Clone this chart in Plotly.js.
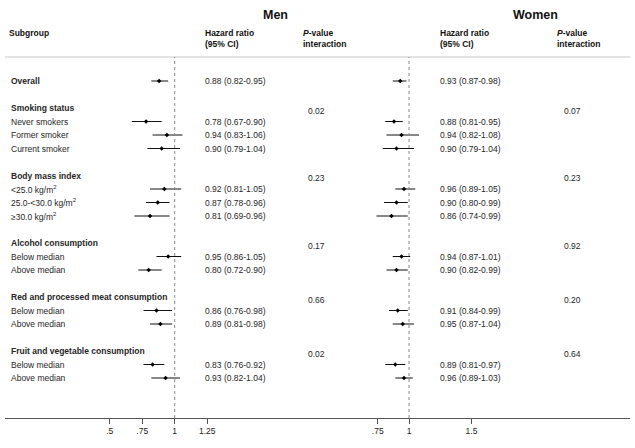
<!DOCTYPE html>
<html>
<head>
<meta charset="utf-8">
<script src="https://cdn.plot.ly/plotly-3.0.1.min.js"></script>
<style>html,body{margin:0;padding:0;background:#fff}#chart{width:635px;height:448px}</style>
</head>
<body>
<div id="chart"></div>
<script>
// subgroups, one entry per group (Overall has no items)
const groupNames=['Overall','Smoking status','Body mass index','Alcohol consumption','Red and processed meat consumption','Fruit and vegetable consumption'];
const groupItems=[
  [],
  ['Never smokers','Former smoker','Current smoker'],
  ['&lt;25.0 kg/m<sup>2</sup>','25.0-&lt;30.0 kg/m<sup>2</sup>','≥30.0 kg/m<sup>2</sup>'],
  ['Below median','Above median'],
  ['Below median','Above median'],
  ['Below median','Above median']
];
// estimates in row order: Overall, then each item
const menHR=[0.88,0.78,0.94,0.90,0.92,0.87,0.81,0.95,0.80,0.86,0.89,0.83,0.93];
const menLo=[0.82,0.67,0.83,0.79,0.81,0.78,0.69,0.86,0.72,0.76,0.81,0.76,0.82];
const menHi=[0.95,0.90,1.06,1.04,1.05,0.96,0.96,1.05,0.90,0.98,0.98,0.92,1.04];
const womenHR=[0.93,0.88,0.94,0.90,0.96,0.90,0.86,0.94,0.90,0.91,0.95,0.89,0.96];
const womenLo=[0.87,0.81,0.82,0.79,0.89,0.80,0.74,0.87,0.82,0.84,0.87,0.81,0.89];
const womenHi=[0.98,0.95,1.08,1.04,1.05,0.99,0.99,1.01,0.99,0.99,1.04,0.97,1.03];
const menP=[null,'0.02','0.23','0.17','0.66','0.02'];
const womenP=[null,'0.07','0.23','0.92','0.20','0.64'];
const menTicks=[0.5,0.75,1,1.25], menTickText=['.5','.75','1','1.25'];
const womenTicks=[0.75,1,1.5], womenTickText=['.75','1','1.5'];

const W=635, H=448, plotH=418;
const FONT='Liberation Sans, Arial, Helvetica, sans-serif';
const px=(x)=>x/W;              // paper x from pixel
const py=(y)=>1-y/plotH;        // paper y from pixel (plot area)

// build rows
const itemRows=[], rowText=[], headerRows=[];
let r=0;
groupNames.forEach((g,gi)=>{
  if(gi===0){ itemRows.push(r); rowText.push({row:r,text:'<b>'+g+'</b>'}); r+=2; return; }
  headerRows.push(r); rowText.push({row:r,text:'<b>'+g+'</b>'}); r++;
  groupItems[gi].forEach(it=>{ itemRows.push(r); rowText.push({row:r,text:it}); r++; });
  r++;
});

const ann=[];
const txt=(x,y,text,o)=>Object.assign({x,y,xref:'paper',yref:'y',text,showarrow:false,xanchor:'left',yanchor:'middle',font:{family:FONT,size:8.5,color:'#262626'}},o||{});
rowText.forEach(t=>ann.push(txt(px(9),t.row,t.text)));
const fmt=(a,b,c)=>`${a.toFixed(2)} (${b.toFixed(2)}-${c.toFixed(2)})`;
itemRows.forEach((row,i)=>{
  ann.push(txt(px(203),row,fmt(menHR[i],menLo[i],menHi[i])));
  ann.push(txt(px(438),row,fmt(womenHR[i],womenLo[i],womenHi[i])));
});
headerRows.forEach((row,i)=>{
  ann.push(txt(px(306),row+0.2,menP[i+1]));
  ann.push(txt(px(562),row+0.2,womenP[i+1]));
});
// headers
const hdr=(x,y,text,o)=>Object.assign({x:px(x),y:py(y),xref:'paper',yref:'paper',text,showarrow:false,xanchor:'left',yanchor:'middle',font:{family:FONT,size:8.5,color:'#111'}},o||{});
ann.push(hdr(7,33,'<b>Subgroup</b>'));
ann.push(hdr(203,38,'<b>Hazard ratio<br>(95% CI)</b>',{align:'left'}));
ann.push(hdr(301,38,'<b><i>P</i>-value<br>interaction</b>',{align:'left'}));
ann.push(hdr(438,38,'<b>Hazard ratio<br>(95% CI)</b>',{align:'left'}));
ann.push(hdr(555,38,'<b><i>P</i>-value<br>interaction</b>',{align:'left'}));
ann.push(hdr(275,15,'<b>Men</b>',{xanchor:'center',font:{family:FONT,size:12.5,color:'#111'}}));
ann.push(hdr(535,15,'<b>Women</b>',{xanchor:'center',font:{family:FONT,size:12.5,color:'#111'}}));

const diff=(a,b)=>a.map((v,i)=>v-b[i]);
const ciTrace=(hr,lo,hi,xa)=>({
  type:'scatter',mode:'markers',x:hr,y:itemRows,xaxis:xa,yaxis:'y',
  marker:{symbol:'diamond',size:3.5,color:'#000'},
  error_x:{type:'data',symmetric:false,array:diff(hi,hr),arrayminus:diff(hr,lo),width:0,thickness:1,color:'#111'},
  hoverinfo:'skip',showlegend:false
});
const traces=[ciTrace(menHR,menLo,menHi,'x'),ciTrace(womenHR,womenLo,womenHi,'x2')];

// axis scales (px per unit), reference line at 1
const menPx=130, menOne=174.7, womenPx=125, womenOne=409;
const xl0=5, xmid=290, xr1=630;
const axisBase={showline:true,linecolor:'#555',linewidth:1,showgrid:false,zeroline:false,ticks:'outside',ticklen:5,tickcolor:'#555',tickfont:{family:FONT,size:8.5,color:'#222'},fixedrange:true,tickmode:'array'};
const layout={
  width:W,height:H,margin:{l:0,r:0,t:0,b:H-plotH,pad:0},
  paper_bgcolor:'#fff',plot_bgcolor:'#fff',showlegend:false,
  xaxis:Object.assign({},axisBase,{domain:[px(xl0),px(xmid)],range:[1-(menOne-xl0)/menPx,1+(xmid-menOne)/menPx],tickvals:menTicks,ticktext:menTickText,anchor:'y'}),
  xaxis2:Object.assign({},axisBase,{domain:[px(xmid),px(xr1)],range:[1-(womenOne-xmid)/womenPx,1+(xr1-womenOne)/womenPx],tickvals:womenTicks,ticktext:womenTickText,anchor:'y'}),
  yaxis:{visible:false,range:[(plotH-81)/13.5,-81/13.5],fixedrange:true},
  annotations:ann,
  shapes:[
    {type:'line',xref:'paper',yref:'paper',x0:px(5),x1:px(630),y0:py(57),y1:py(57),line:{color:'#c8c8c8',width:1}},
    {type:'line',xref:'x',yref:'paper',x0:1,x1:1,y0:0,y1:py(57),line:{color:'#888',width:1,dash:'dot'}},
    {type:'line',xref:'x2',yref:'paper',x0:1,x1:1,y0:0,y1:py(57),line:{color:'#888',width:1,dash:'dot'}}
  ]
};
Plotly.newPlot('chart',traces,layout,{staticPlot:true,displayModeBar:false});
</script>
</body>
</html>
